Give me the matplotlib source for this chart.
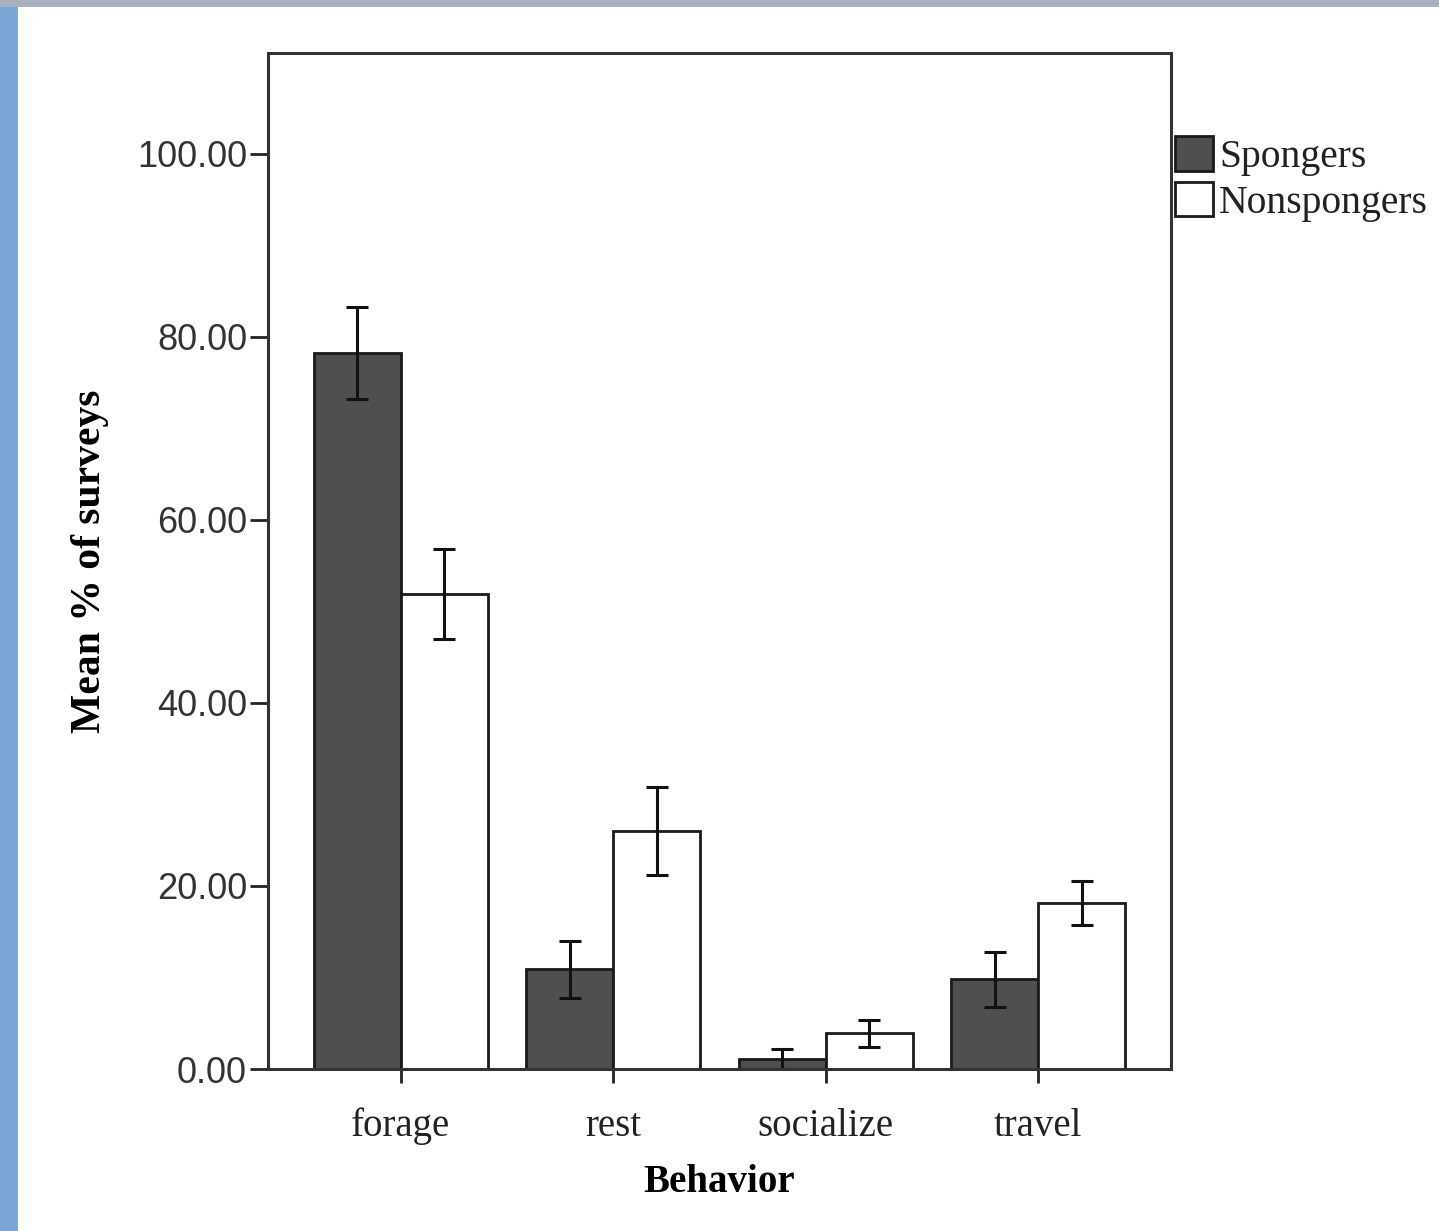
import numpy as np
import matplotlib
matplotlib.use('Agg')
import matplotlib.pyplot as plt
from matplotlib.patches import Rectangle

behaviors   = ['forage', 'rest', 'socialize', 'travel']
spongers    = [78.2, 10.9, 1.1, 9.8]
spongErr    = [5.05, 3.1, 1.1, 3.0]
nonspongers = [51.9, 26.0, 3.9, 18.1]
nonspongErr = [4.9, 4.85, 1.45, 2.4]
yticks      = [0, 20, 40, 60, 80, 100]

serif = ['Liberation Serif', 'DejaVu Serif']
sans  = ['Liberation Sans', 'DejaVu Sans']

fig = plt.figure(figsize=(14.39, 12.31), dpi=100)

# screenshot frame (blue strip left, grey strip top)
fig.patches.append(Rectangle((0, 0), 0.0125, 1, transform=fig.transFigure,
                             facecolor='#7aa6d6', edgecolor='none', zorder=0))
fig.patches.append(Rectangle((0, 0.9943), 1, 0.0057, transform=fig.transFigure,
                             facecolor='#a7b2be', edgecolor='none', zorder=0))

ax = fig.add_axes([0.1862, 0.1316, 0.6275, 0.8253])
x = np.arange(len(behaviors))
w = 0.41
errKw = dict(elinewidth=2.2, capsize=8, capthick=2.2, ecolor='#111111')
ax.bar(x - w / 2, spongers, w, yerr=spongErr, color='#4f4f4f', edgecolor='#1a1a1a',
       linewidth=2, label='Spongers', error_kw=errKw, zorder=2)
ax.bar(x + w / 2, nonspongers, w, yerr=nonspongErr, color='white', edgecolor='#1a1a1a',
       linewidth=2, label='Nonspongers', error_kw=errKw, zorder=2)

ax.set_xlim(-0.625, 3.625)
ax.set_ylim(0, 111)
ax.set_yticks(yticks)
ax.set_yticklabels(['%.2f' % v for v in yticks], fontfamily=sans, fontsize=26, color='#333333')
ax.set_xticks(x)
ax.set_xticklabels(behaviors, fontfamily=serif, fontsize=28, color='#222222')
ax.tick_params(axis='y', length=13, width=2, color='#222222', pad=2)
ax.tick_params(axis='x', length=10, width=2, color='#222222', pad=18)
for s in ax.spines.values():
  s.set_linewidth(2.2)
  s.set_color('#333333')

ax.set_xlabel('Behavior', fontfamily=serif, fontweight='bold', fontsize=28, labelpad=13)
ax.set_ylabel('Mean % of surveys', fontfamily=serif, fontweight='bold', fontsize=30, labelpad=20)

leg = ax.legend(loc='upper left', bbox_to_anchor=(1.005, 0.918), frameon=False,
                prop={'family': serif, 'size': 28.5}, handlelength=0.95, handleheight=0.95,
                handletextpad=0.15, labelspacing=0.15, borderaxespad=0, borderpad=0)
for t in leg.get_texts():
  t.set_color('#222222')

fig.savefig('out.png', dpi=100)
